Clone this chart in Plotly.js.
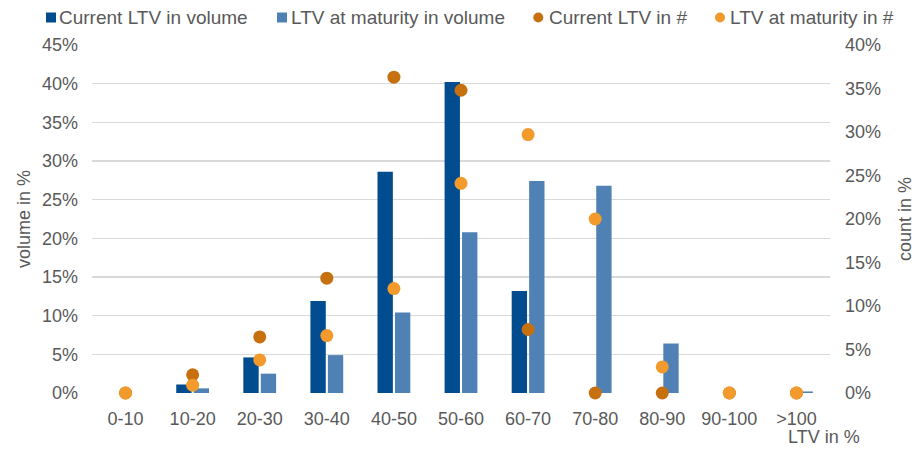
<!DOCTYPE html>
<html>
<head>
<meta charset="utf-8">
<script src="https://cdn.plot.ly/plotly-3.0.1.min.js"></script>
<style>
html,body{margin:0;padding:0;background:#fff;}
#chart{width:922px;height:456px;}
</style>
</head>
<body>
<div id="chart"></div>
<script>
const categories = ['0-10','10-20','20-30','30-40','40-50','50-60','60-70','70-80','80-90','90-100','>100'];
const currentLtvVolume = [0, 1.1, 4.6, 11.9, 28.6, 40.2, 13.2, 0, 0, 0, 0];
const maturityLtvVolume = [0, 0.6, 2.5, 4.9, 10.4, 20.8, 27.4, 26.8, 6.4, 0, 0.2];
const currentLtvCount = [0, 2.1, 6.45, 13.2, 36.3, 34.8, 7.3, 0, 0, 0, 0];
const maturityLtvCount = [0, 0.9, 3.8, 6.6, 12.0, 24.1, 29.7, 20.0, 3.0, 0, 0];
const seriesNames = ['Current LTV in volume', 'LTV at maturity in volume', 'Current LTV in #', 'LTV at maturity in #'];
const seriesColors = ['#004C8E', '#4F81B4', '#C6700F', '#F29A2C'];

const FONT = 'Liberation Sans, Arial, sans-serif';
const GREY = '#595959';
const W = 922, H = 456, ML = 92, MR = 92, MT = 45, MB = 63;
const PW = W - ML - MR, PH = H - MT - MB;
const px = v => (v - ML) / PW;          // pixel -> paper x
const py = v => (H - MB - v) / PH;      // pixel -> paper y

const traces = [
  {type:'bar', name:seriesNames[0], x:categories, y:currentLtvVolume,
   marker:{color:seriesColors[0]}, yaxis:'y', hoverinfo:'skip'},
  {type:'bar', name:seriesNames[1], x:categories, y:maturityLtvVolume,
   marker:{color:seriesColors[1]}, yaxis:'y', hoverinfo:'skip'},
  {type:'scatter', mode:'markers', name:seriesNames[2], x:categories, y:currentLtvCount,
   marker:{color:seriesColors[2], size:13}, yaxis:'y2', cliponaxis:false, hoverinfo:'skip'},
  {type:'scatter', mode:'markers', name:seriesNames[3], x:categories, y:maturityLtvCount,
   marker:{color:seriesColors[3], size:13}, yaxis:'y2', cliponaxis:false, hoverinfo:'skip'}
];

// legend (drawn manually so it fits on one line like the original)
const legendY = 17.5;
const legendItems = [
  {sym:'rect', cx:51, tx:59},
  {sym:'rect', cx:282, tx:290.5},
  {sym:'circle', cx:538.3, tx:549},
  {sym:'circle', cx:720, tx:729.5}
];
const shapes = [], annotations = [];
legendItems.forEach((it, i) => {
  shapes.push({type:it.sym, xref:'paper', yref:'paper',
    x0:px(it.cx - 5), x1:px(it.cx + 5), y0:py(legendY + 5), y1:py(legendY - 5),
    fillcolor:seriesColors[i], line:{width:0}});
  annotations.push({text:seriesNames[i], xref:'paper', yref:'paper', x:px(it.tx - 1), y:py(legendY),
    xanchor:'left', yanchor:'middle', showarrow:false, borderpad:0, font:{size:19, color:GREY}});
});
annotations.push({text:'LTV in %', xref:'paper', yref:'paper', x:px(862), y:py(437), xanchor:'right', yanchor:'middle',
  showarrow:false, font:{size:18, color:GREY}});

const layout = {
  width:W, height:H,
  margin:{l:ML, r:MR, t:MT, b:MB, pad:0},
  paper_bgcolor:'#fff', plot_bgcolor:'#fff',
  font:{family:FONT, color:GREY, size:18},
  barmode:'group', bargap:0.48, bargroupgap:0.12,
  showlegend:false,
  xaxis:{type:'category', range:[-0.5, categories.length - 0.5], showgrid:false, zeroline:false, showline:false, ticks:'',
         tickfont:{size:18, color:GREY}, ticklabelstandoff:13, fixedrange:true},
  yaxis:{range:[0,45], dtick:5, ticksuffix:'%', showgrid:true, gridcolor:'#D9D9D9', gridwidth:1.5,
         zeroline:false, showline:false, ticks:'', tickfont:{size:18, color:GREY}, ticklabelstandoff:13,
         title:{text:'volume in %', font:{size:18, color:GREY}, standoff:6}},
  yaxis2:{range:[0,40], dtick:5, ticksuffix:'%', overlaying:'y', side:'right', showgrid:false,
          zeroline:false, showline:false, ticks:'', tickfont:{size:18, color:GREY}, ticklabelstandoff:14,
          title:{text:'count in %', font:{size:18, color:GREY}, standoff:18}},
  shapes:shapes,
  annotations:annotations
};

Plotly.newPlot('chart', traces, layout, {staticPlot:true, displayModeBar:false});
</script>
</body>
</html>
